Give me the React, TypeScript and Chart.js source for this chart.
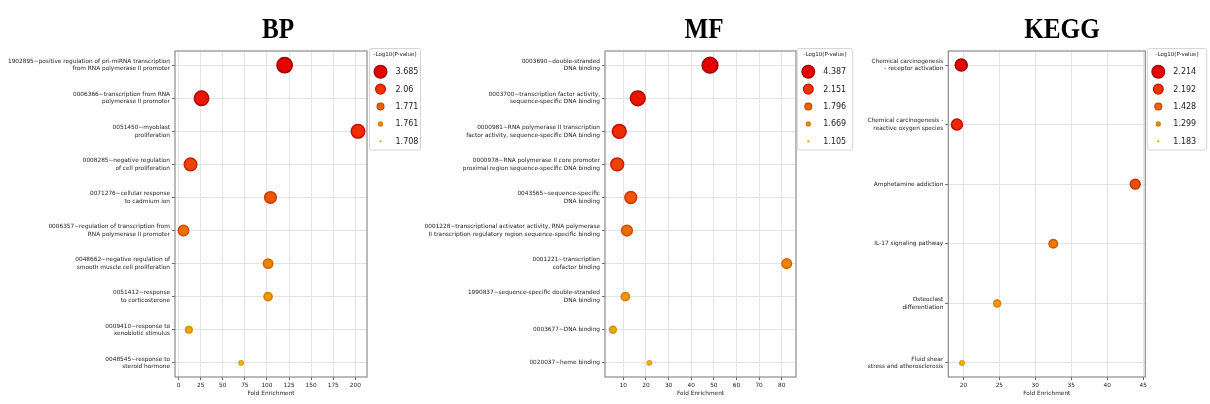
import React, { useEffect, useRef } from "react";
import { Chart, registerables } from "chart.js";

Chart.register(...registerables);

// ---------------- data ----------------
const bpTerms: (string | string[])[] = [
  ["1902895~positive regulation of pri-miRNA transcription", "from RNA polymerase II promoter"],
  ["0006366~transcription from RNA", "polymerase II promoter"],
  ["0051450~myoblast", "proliferation"],
  ["0008285~negative regulation", "of cell proliferation"],
  ["0071276~cellular response", "to cadmium ion"],
  ["0006357~regulation of transcription from", "RNA polymerase II promoter"],
  ["0048662~negative regulation of", "smooth muscle cell proliferation"],
  ["0051412~response", "to corticosterone"],
  ["0009410~response to", "xenobiotic stimulus"],
  ["0048545~response to", "steroid hormone"],
];
const bpFold = [120, 26, 203, 13.6, 104, 5.6, 101.3, 101.3, 11.7, 70.8];
const bpLogP = [3.685, 2.41, 2.06, 1.95, 1.87, 1.8, 1.771, 1.765, 1.761, 1.708];
const bpLegendValues = [3.685, 2.06, 1.771, 1.761, 1.708];
const bpXTicks = [0, 25, 50, 75, 100, 125, 150, 175, 200];

const mfTerms: (string | string[])[] = [
  ["0003690~double-stranded", "DNA binding"],
  ["0003700~transcription factor activity,", "sequence-specific DNA binding"],
  ["0000981~RNA polymerase II transcription", "factor activity, sequence-specific DNA binding"],
  ["0000978~RNA polymerase II core promoter", "proximal region sequence-specific DNA binding"],
  ["0043565~sequence-specific", "DNA binding"],
  ["0001228~transcriptional activator activity, RNA polymerase", "II transcription regulatory region sequence-specific binding"],
  ["0001221~transcription", "cofactor binding"],
  ["1990837~sequence-specific double-stranded", "DNA binding"],
  "0003677~DNA binding",
  "0020037~heme binding",
];
const mfFold = [48.3, 16.4, 8.2, 7.3, 13.3, 11.6, 82.2, 10.9, 5.4, 21.5];
const mfLogP = [4.387, 2.6, 2.151, 2.0, 1.9, 1.796, 1.72, 1.669, 1.4, 1.105];
const mfLegendValues = [4.387, 2.151, 1.796, 1.669, 1.105];
const mfXTicks = [10, 20, 30, 40, 50, 60, 70, 80];

const keggTerms: (string | string[])[] = [
  ["Chemical carcinogenesis", "- receptor activation"],
  ["Chemical carcinogenesis -", "reactive oxygen species"],
  "Amphetamine addiction",
  "IL-17 signaling pathway",
  ["Osteoclast", "differentiation"],
  ["Fluid shear", "stress and atherosclerosis"],
];
const keggFold = [19.7, 19.1, 43.9, 32.5, 24.7, 19.8];
const keggLogP = [2.214, 2.192, 1.5, 1.428, 1.299, 1.183];
const keggLegendValues = [2.214, 2.192, 1.428, 1.299, 1.183];
const keggXTicks = [20, 25, 30, 35, 40, 45];

// ---------------- styling ----------------
const H = 404;
const FONT = "'DejaVu Sans', sans-serif";
const TEXT = "#222222";
const FILL_STOPS: [number, number[]][] = [
  [0, [232, 190, 0]],
  [0.25, [236, 148, 0]],
  [0.5, [234, 100, 0]],
  [0.75, [242, 48, 0]],
  [1, [226, 0, 0]],
];
const EDGE_STOPS: [number, number[]][] = [
  [0, [222, 160, 0]],
  [0.25, [216, 116, 0]],
  [0.5, [206, 66, 0]],
  [0.75, [196, 16, 0]],
  [1, [160, 0, 0]],
];

function ramp(stops: [number, number[]][], t: number) {
  t = Math.max(0, Math.min(1, t));
  for (let i = 1; i < stops.length; i++) {
    const [t1, c1] = stops[i];
    const [t0, c0] = stops[i - 1];
    if (t <= t1) {
      const f = (t - t0) / (t1 - t0);
      const c = c0.map((v, k) => Math.round(v + (c1[k] - v) * f));
      return `rgb(${c[0]},${c[1]},${c[2]})`;
    }
  }
  const c = stops[stops.length - 1][1];
  return `rgb(${c[0]},${c[1]},${c[2]})`;
}

function rankT(values: number[]) {
  const sorted = [...values].sort((a, b) => b - a);
  const n = values.length;
  return values.map((v) => 1 - sorted.indexOf(v) / (n - 1));
}

type Panel = {
  title: string;
  titleX: number;
  left: number;
  width: number;
  areaLeft: number;
  areaRight: number;
  terms: (string | string[])[];
  fold: number[];
  logp: number[];
  legend: number[];
  xTicks: number[];
  xMin: number;
  xMax: number;
  yPad: number;
  rMin: number;
  rMax: number;
  legendX: number;
  legendW: number;
};

const panels: Panel[] = [
  {
    title: "BP", titleX: 278, left: 0, width: 421, areaLeft: 175, areaRight: 367,
    terms: bpTerms, fold: bpFold, logp: bpLogP, legend: bpLegendValues, xTicks: bpXTicks,
    xMin: -4, xMax: 213.2, yPad: 0.43, rMin: 2.9, rMax: 8.4, legendX: 369.5, legendW: 51,
  },
  {
    title: "MF", titleX: 283, left: 421, width: 436, areaLeft: 184, areaRight: 375,
    terms: mfTerms, fold: mfFold, logp: mfLogP, legend: mfLegendValues, xTicks: mfXTicks,
    xMin: 1.9, xMax: 86.3, yPad: 0.43, rMin: 2.9, rMax: 8.6, legendX: 376.3, legendW: 55.4,
  },
  {
    title: "KEGG", titleX: 205, left: 857, width: 353, areaLeft: 91.3, areaRight: 288.3,
    terms: keggTerms, fold: keggFold, logp: keggLogP, legend: keggLegendValues, xTicks: keggXTicks,
    xMin: 17.9, xMax: 45.3, yPad: 0.235, rMin: 3, rMax: 6.8, legendX: 290.3, legendW: 59.4,
  },
];

function buildConfig(p: Panel): any {
  const n = p.terms.length;
  const ts = rankT(p.logp);
  const bw = 1.5;
  const radii = ts.map((t) => p.rMin + (p.rMax - p.rMin) * Math.pow(t, 0.7) - bw / 2);

  const decoPlugin = {
    id: "deco" + p.title,
    beforeDatasetsDraw(chart: any) {
      const { ctx, chartArea: a } = chart;
      ctx.save();
      ctx.strokeStyle = "#8c8c8c";
      ctx.lineWidth = 1.2;
      ctx.strokeRect(a.left, a.top, a.right - a.left, a.bottom - a.top);
      ctx.restore();
    },
    afterDraw(chart: any) {
      const { ctx } = chart;
      ctx.save();
      // title
      ctx.translate(p.titleX, 37.5);
      ctx.scale(0.84, 1);
      ctx.font = "bold 30px 'Liberation Serif', 'DejaVu Serif', serif";
      ctx.fillStyle = "#000";
      ctx.textAlign = "center";
      ctx.textBaseline = "alphabetic";
      ctx.fillText(p.title, 0, 0);
      ctx.restore();

      // size legend
      ctx.save();
      const bx = p.legendX, by = 48.5, bwid = p.legendW, bh = 101.5;
      ctx.fillStyle = "rgba(255,255,255,0.9)";
      ctx.strokeStyle = "#d4d4d4";
      ctx.lineWidth = 1;
      ctx.beginPath();
      ctx.roundRect(bx, by, bwid, bh, 2);
      ctx.fill();
      ctx.stroke();
      ctx.fillStyle = TEXT;
      ctx.font = `5.5px ${FONT}`;
      ctx.textAlign = "center";
      ctx.textBaseline = "middle";
      ctx.fillText("-Log10(P-value)", bx + bwid / 2, 55);
      const m = p.legend.length;
      p.legend.forEach((v, i) => {
        const t = 1 - i / (m - 1);
        const y = 71.7 + 17.4 * i;
        const r = 1.1 + 5.9 * t - 0.6;
        ctx.beginPath();
        ctx.arc(bx + 11, y, Math.max(r, 0.4), 0, Math.PI * 2);
        ctx.fillStyle = ramp(FILL_STOPS, t);
        ctx.fill();
        ctx.lineWidth = 1.2;
        ctx.strokeStyle = ramp(EDGE_STOPS, t);
        ctx.stroke();
        ctx.fillStyle = TEXT;
        ctx.font = `8px ${FONT}`;
        ctx.textAlign = "left";
        ctx.fillText(String(v), bx + 26, y + 0.5);
      });
      ctx.restore();
    },
  };

  const yFont = { family: FONT, size: 5.8, lineHeight: 1.27 };
  const xFont = { family: FONT, size: 5.8 };

  return {
    type: "scatter",
    data: {
      datasets: [
        {
          data: p.fold.map((x, i) => ({ x, y: i })),
          pointRadius: radii,
          pointHoverRadius: radii,
          backgroundColor: ts.map((t) => ramp(FILL_STOPS, t)),
          borderColor: ts.map((t) => ramp(EDGE_STOPS, t)),
          borderWidth: bw,
        },
      ],
    },
    options: {
      responsive: false,
      animation: false,
      events: [],
      layout: { padding: { left: 0, top: 51, right: p.width - p.areaRight, bottom: 0 } },
      plugins: { legend: { display: false }, tooltip: { enabled: false }, title: { display: false } },
      scales: {
        x: {
          type: "linear",
          min: p.xMin,
          max: p.xMax,
          afterBuildTicks: (s: any) => {
            s.ticks = p.xTicks.map((v) => ({ value: v }));
          },
          afterFit: (s: any) => {
            s.height = H - 377;
          },
          border: { display: false },
          grid: { color: "#e4e4e4", lineWidth: 1, tickLength: 3, tickColor: "#666", drawTicks: true },
          ticks: { font: xFont, color: TEXT, padding: 2, maxRotation: 0, autoSkip: false },
          title: {
            display: true,
            text: "Fold Enrichment",
            font: xFont,
            color: TEXT,
            padding: { top: 0, bottom: 7.3 },
          },
        },
        y: {
          type: "linear",
          reverse: true,
          min: -p.yPad,
          max: n - 1 + p.yPad,
          afterBuildTicks: (s: any) => {
            s.ticks = p.terms.map((_, i) => ({ value: i }));
          },
          afterFit: (s: any) => {
            s.width = p.areaLeft;
          },
          border: { display: false },
          grid: { color: "#e4e4e4", lineWidth: 1, tickLength: 3, tickColor: "#666", drawTicks: true },
          ticks: {
            font: yFont,
            color: TEXT,
            padding: 2,
            autoSkip: false,
            callback: (v: number) => p.terms[Math.round(v)],
          },
        },
      },
    },
    plugins: [decoPlugin],
  };
}

function PanelChart({ p }: { p: Panel }) {
  const ref = useRef<HTMLCanvasElement>(null);
  useEffect(() => {
    const chart = new Chart(ref.current as HTMLCanvasElement, buildConfig(p));
    return () => chart.destroy();
  }, []);
  return (
    <canvas
      ref={ref}
      width={p.width}
      height={H}
      style={{ position: "absolute", left: p.left, top: 0, width: p.width, height: H }}
    />
  );
}

export default function App() {
  return (
    <div style={{ position: "absolute", left: 0, top: 0, width: 1210, height: H, background: "#fff" }}>
      {panels.map((p) => (
        <PanelChart key={p.title} p={p} />
      ))}
    </div>
  );
}
